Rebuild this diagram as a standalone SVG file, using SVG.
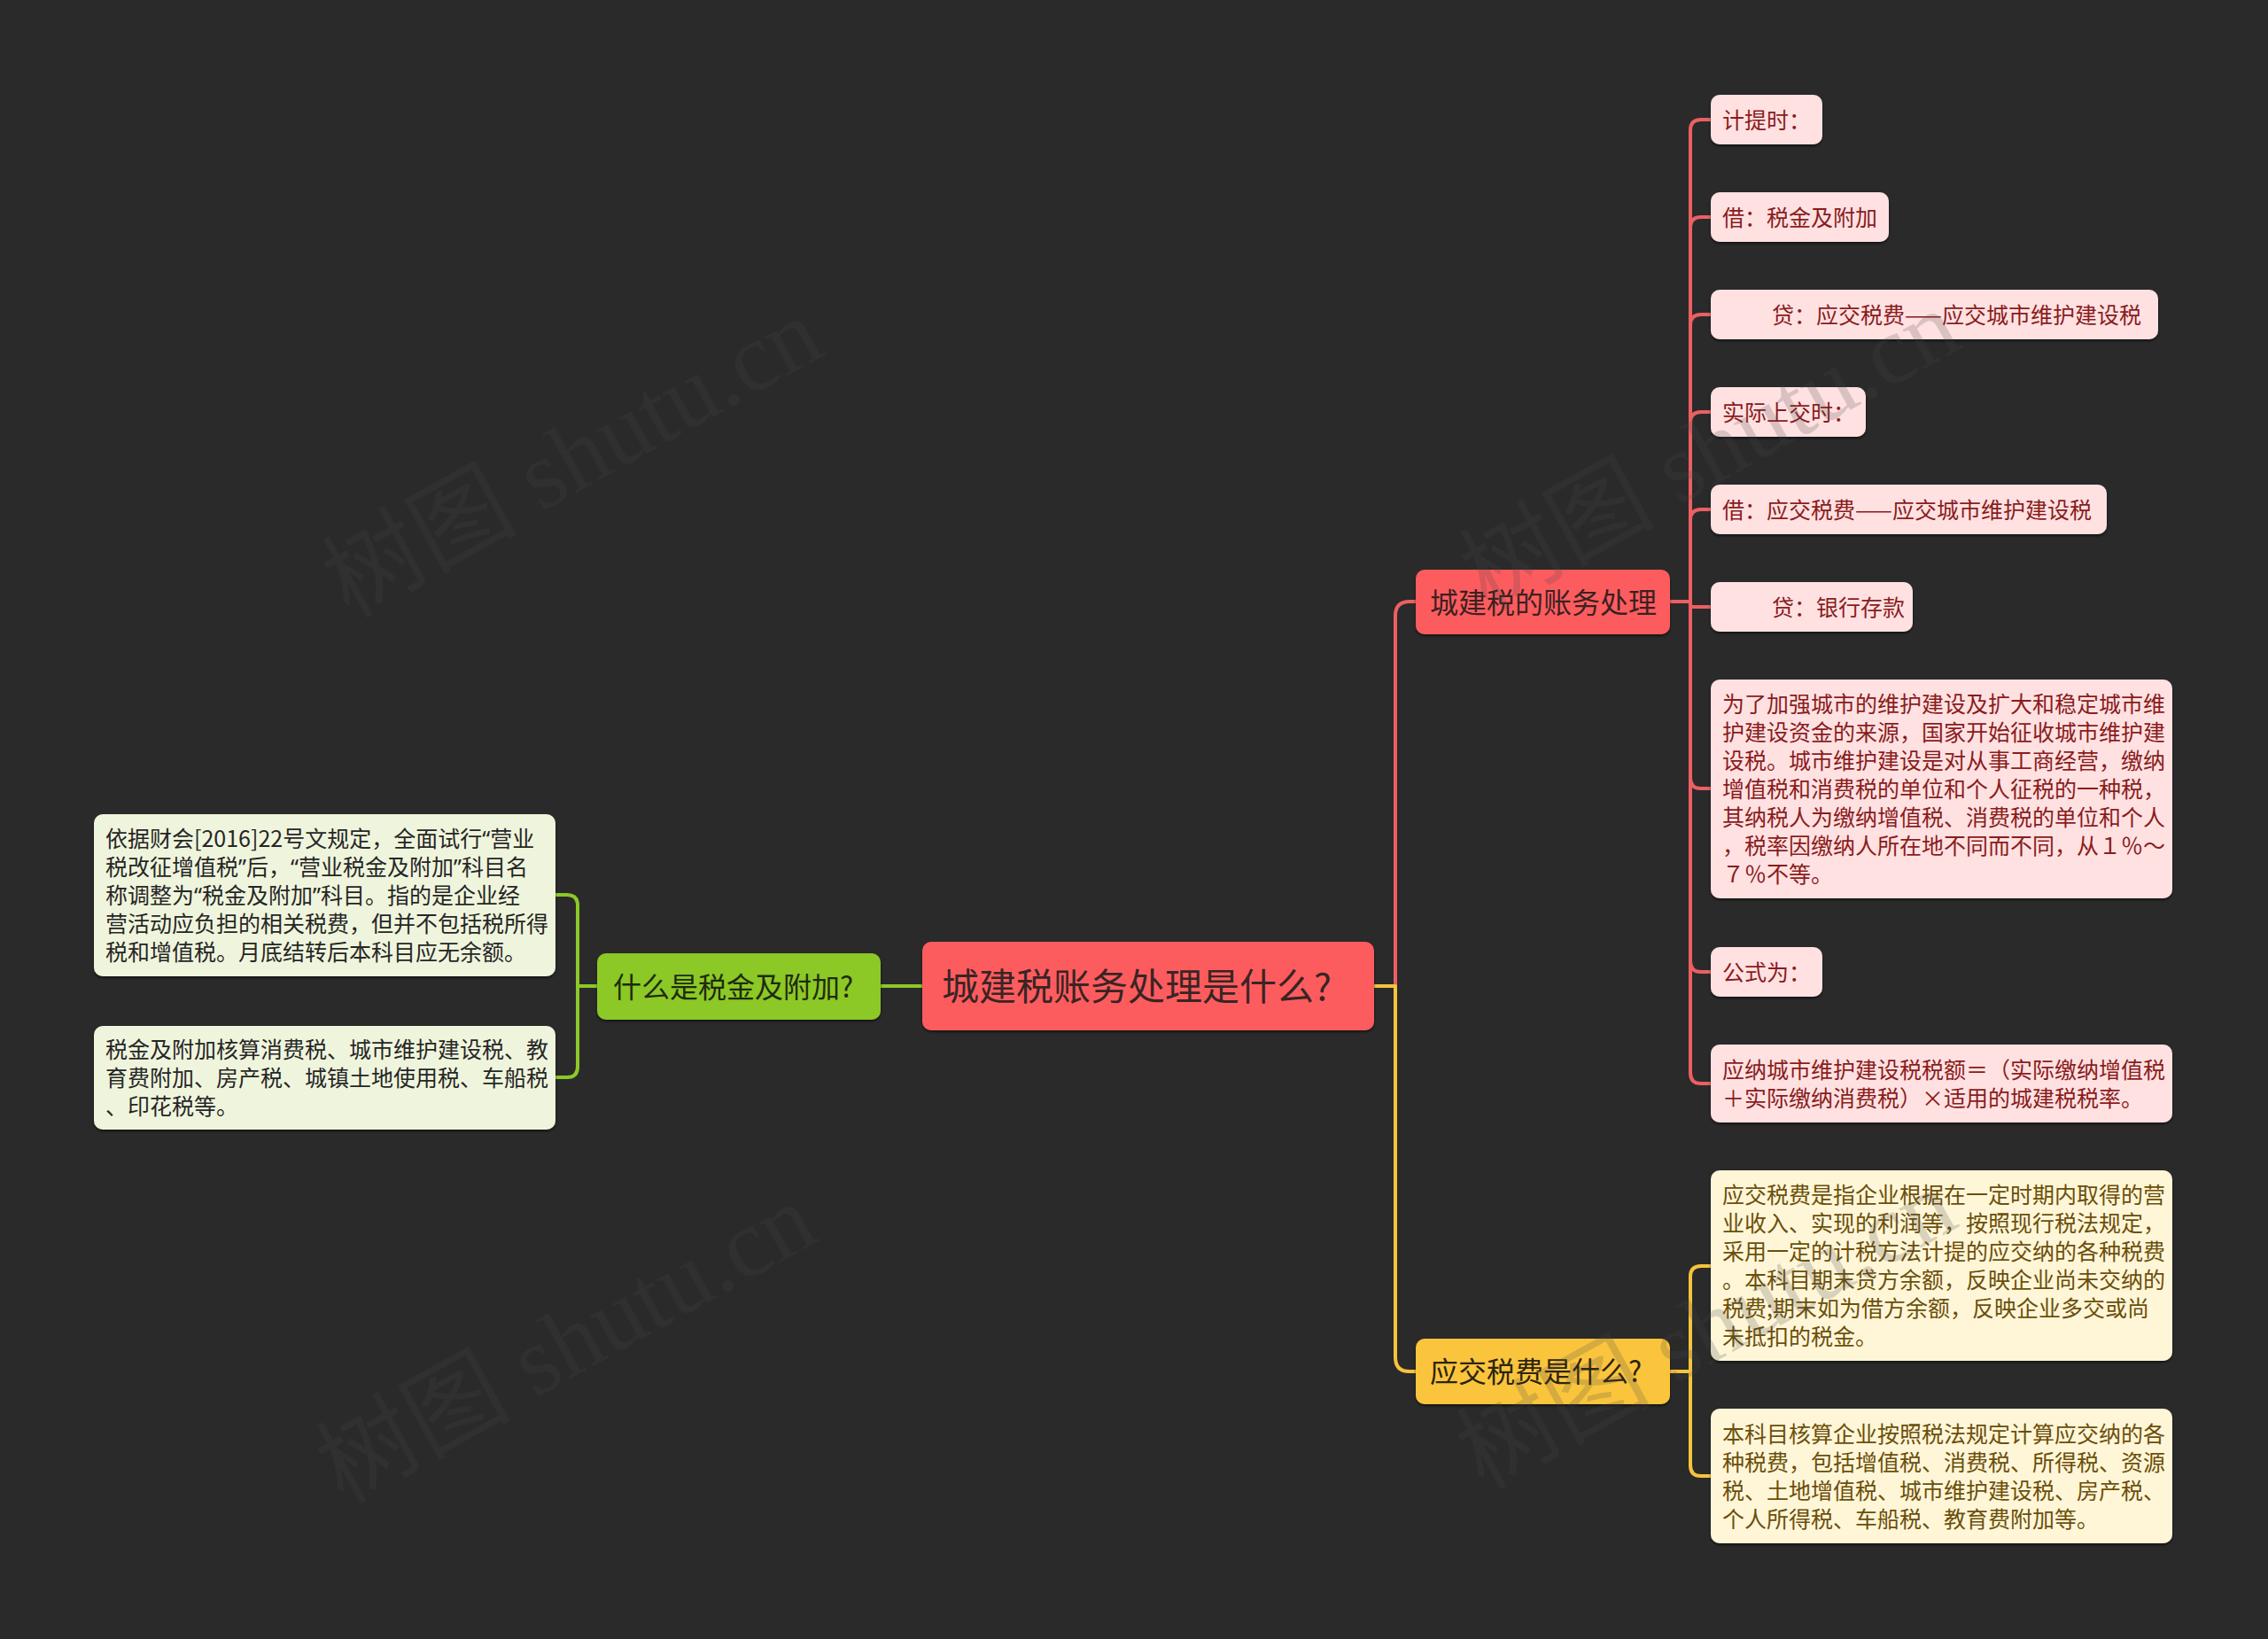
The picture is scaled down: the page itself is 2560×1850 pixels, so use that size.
<svg xmlns="http://www.w3.org/2000/svg" width="2560" height="1850" viewBox="0 0 2560 1850">
<defs>
<filter id="sh" x="-5%" y="-10%" width="110%" height="130%"><feDropShadow dx="0" dy="2" stdDeviation="1.5" flood-color="#000" flood-opacity="0.55"/></filter>
<style>
text{font-family:"Noto Sans CJK SC","Noto Sans",sans-serif;}
.q{font-family:"Noto Sans","Liberation Sans",sans-serif;}
.c{fill:none;stroke-width:4;stroke-linejoin:round;stroke-linecap:round;}
.cr{stroke:#ec5f62;}
.cy{stroke:#f6c33c;}
.cg{stroke:#8cc828;}
.root rect{fill:#fd5b5e;}
.root text{font-size:42px;fill:#3a2424;}
.br text{font-size:32px;}
.bred rect{fill:#fd5b5e;} .bred text{fill:#3b2121;}
.byel rect{fill:#fac53c;} .byel text{fill:#2d2410;}
.bgrn rect{fill:#8cc828;} .bgrn text{fill:#1f2b0e;}
.lf text{font-size:25px;}
.lred rect{fill:#ffe1e2;} .lred text{fill:#8a1c1c;}
.lyel rect{fill:#fff6d8;} .lyel text{fill:#6b4f0a;}
.lgrn rect{fill:#eff5dc;} .lgrn text{fill:#262626;}
.wm{font-family:"Liberation Serif","Noto Sans CJK SC",serif;font-size:110px;fill:#484848;opacity:0.2;}
</style>
</defs>
<rect x="0" y="0" width="2560" height="1850" fill="#2a2a2a"/>

<g id="connectors">
<path class="c cg" d="M1040,1113 H994"/>
<path class="c cg" d="M674,1113 H652 V1022 Q652,1010 640,1010 H627"/>
<path class="c cg" d="M674,1113 H652 V1204 Q652,1216 640,1216 H627"/>
<path class="c cr" d="M1551,1113 H1575 V695 Q1575,679 1591,679 H1598"/>
<path class="c cy" d="M1551,1113 H1575 V1532 Q1575,1548 1591,1548 H1598"/>
<path class="c cr" d="M1885,679 H1908 V147 Q1908,135 1920,135 H1931"/>
<path class="c cr" d="M1885,679 H1908 V257 Q1908,245 1920,245 H1931"/>
<path class="c cr" d="M1885,679 H1908 V367 Q1908,355 1920,355 H1931"/>
<path class="c cr" d="M1885,679 H1908 V477 Q1908,465 1920,465 H1931"/>
<path class="c cr" d="M1885,679 H1908 V587 Q1908,575 1920,575 H1931"/>
<path class="c cr" d="M1885,679 H1905 Q1908,679 1908,682 Q1908,685 1911,685 H1931"/>
<path class="c cr" d="M1885,679 H1908 V878 Q1908,890 1920,890 H1931"/>
<path class="c cr" d="M1885,679 H1908 V1085 Q1908,1097 1920,1097 H1931"/>
<path class="c cr" d="M1885,679 H1908 V1211 Q1908,1223 1920,1223 H1931"/>
<path class="c cy" d="M1885,1548 H1908 V1441 Q1908,1429 1920,1429 H1931"/>
<path class="c cy" d="M1885,1548 H1908 V1654 Q1908,1666 1920,1666 H1931"/>
</g>

<g id="root" class="root">
<rect x="1041" y="1063" width="510" height="100" rx="10" filter="url(#sh)"/>
<text x="1063" y="1129">城建税账务处理是什么?</text>
</g>

<g id="branch-green" class="br bgrn">
<rect x="674" y="1076" width="320" height="75" rx="10" filter="url(#sh)"/>
<text x="692" y="1125.5">什么是税金及附加?</text>
</g>
<g id="branch-red" class="br bred">
<rect x="1598" y="643" width="287" height="73" rx="10" filter="url(#sh)"/>
<text x="1614" y="691.5">城建税的账务处理</text>
</g>
<g id="branch-yellow" class="br byel">
<rect x="1598" y="1511" width="287" height="74" rx="10" filter="url(#sh)"/>
<text x="1614" y="1560">应交税费是什么?</text>
</g>

<g id="leaf-r1" class="lf lred">
<rect x="1931" y="107" width="126" height="56" rx="10" filter="url(#sh)"/>
<text x="1944" y="144.5">计提时：</text>
</g>
<g id="leaf-r2" class="lf lred">
<rect x="1931" y="217" width="201" height="56" rx="10" filter="url(#sh)"/>
<text x="1944" y="254.5">借：税金及附加</text>
</g>
<g id="leaf-r3" class="lf lred">
<rect x="1931" y="327" width="505" height="56" rx="10" filter="url(#sh)"/>
<text x="1950" y="364.5">　　贷：应交税费——应交城市维护建设税</text>
</g>
<g id="leaf-r4" class="lf lred">
<rect x="1931" y="437" width="175" height="56" rx="10" filter="url(#sh)"/>
<text x="1944" y="474.5">实际上交时：</text>
</g>
<g id="leaf-r5" class="lf lred">
<rect x="1931" y="547" width="447" height="56" rx="10" filter="url(#sh)"/>
<text x="1944" y="584.5">借：应交税费——应交城市维护建设税</text>
</g>
<g id="leaf-r6" class="lf lred">
<rect x="1931" y="657" width="228" height="56" rx="10" filter="url(#sh)"/>
<text x="1950" y="694.5">　　贷：银行存款</text>
</g>
<g id="leaf-r7" class="lf lred">
<rect x="1931" y="767" width="521" height="247" rx="10" filter="url(#sh)"/>
<text x="1944" y="804">
<tspan x="1944" y="804">为了加强城市的维护建设及扩大和稳定城市维</tspan>
<tspan x="1944" y="836">护建设资金的来源，国家开始征收城市维护建</tspan>
<tspan x="1944" y="868">设税。城市维护建设是对从事工商经营，缴纳</tspan>
<tspan x="1944" y="900">增值税和消费税的单位和个人征税的一种税，</tspan>
<tspan x="1944" y="932">其纳税人为缴纳增值税、消费税的单位和个人</tspan>
<tspan x="1944" y="964">，税率因缴纳人所在地不同而不同，从１％～</tspan>
<tspan x="1944" y="996">７％不等。</tspan>
</text>
</g>
<g id="leaf-r8" class="lf lred">
<rect x="1931" y="1069" width="126" height="56" rx="10" filter="url(#sh)"/>
<text x="1944" y="1106.5">公式为：</text>
</g>
<g id="leaf-r9" class="lf lred">
<rect x="1931" y="1179" width="521" height="88" rx="10" filter="url(#sh)"/>
<text x="1944" y="1216.5">
<tspan x="1944" y="1216.5">应纳城市维护建设税税额＝（实际缴纳增值税</tspan>
<tspan x="1944" y="1248.5">＋实际缴纳消费税）×适用的城建税税率。</tspan>
</text>
</g>

<g id="leaf-y1" class="lf lyel">
<rect x="1931" y="1321" width="521" height="215" rx="10" filter="url(#sh)"/>
<text x="1944" y="1358">
<tspan x="1944" y="1358">应交税费是指企业根据在一定时期内取得的营</tspan>
<tspan x="1944" y="1390">业收入、实现的利润等，按照现行税法规定，</tspan>
<tspan x="1944" y="1422">采用一定的计税方法计提的应交纳的各种税费</tspan>
<tspan x="1944" y="1454">。本科目期末贷方余额，反映企业尚未交纳的</tspan>
<tspan x="1944" y="1486">税费;期末如为借方余额，反映企业多交或尚</tspan>
<tspan x="1944" y="1518">未抵扣的税金。</tspan>
</text>
</g>
<g id="leaf-y2" class="lf lyel">
<rect x="1931" y="1590" width="521" height="152" rx="10" filter="url(#sh)"/>
<text x="1944" y="1627.5">
<tspan x="1944" y="1627.5">本科目核算企业按照税法规定计算应交纳的各</tspan>
<tspan x="1944" y="1659.5">种税费，包括增值税、消费税、所得税、资源</tspan>
<tspan x="1944" y="1691.5">税、土地增值税、城市维护建设税、房产税、</tspan>
<tspan x="1944" y="1723.5">个人所得税、车船税、教育费附加等。</tspan>
</text>
</g>

<g id="leaf-g1" class="lf lgrn">
<rect x="106" y="919" width="521" height="183" rx="10" filter="url(#sh)"/>
<text x="119" y="956">
<tspan x="119" y="956">依据财会[2016]22号文规定，全面试行<tspan class="q">“</tspan>营业</tspan>
<tspan x="119" y="988">税改征增值税<tspan class="q">”</tspan>后，<tspan class="q">“</tspan>营业税金及附加<tspan class="q">”</tspan>科目名</tspan>
<tspan x="119" y="1020">称调整为<tspan class="q">“</tspan>税金及附加<tspan class="q">”</tspan>科目。指的是企业经</tspan>
<tspan x="119" y="1052">营活动应负担的相关税费，但并不包括税所得</tspan>
<tspan x="119" y="1084">税和增值税。月底结转后本科目应无余额。</tspan>
</text>
</g>
<g id="leaf-g2" class="lf lgrn">
<rect x="106" y="1158" width="521" height="117" rx="10" filter="url(#sh)"/>
<text x="119" y="1194">
<tspan x="119" y="1194">税金及附加核算消费税、城市维护建设税、教</tspan>
<tspan x="119" y="1226">育费附加、房产税、城镇土地使用税、车船税</tspan>
<tspan x="119" y="1258">、印花税等。</tspan>
</text>
</g>

<g id="watermarks">
<text class="wm" text-anchor="middle" transform="translate(647,518) rotate(-29)" y="35">树图 shutu.cn</text>
<text class="wm" text-anchor="middle" transform="translate(640,1518) rotate(-29)" y="35">树图 shutu.cn</text>
<text class="wm" text-anchor="middle" transform="translate(1931,510) rotate(-29)" y="35">树图 shutu.cn</text>
<text class="wm" text-anchor="middle" transform="translate(1927,1502) rotate(-29)" y="35">树图 shutu.cn</text>
</g>
</svg>
